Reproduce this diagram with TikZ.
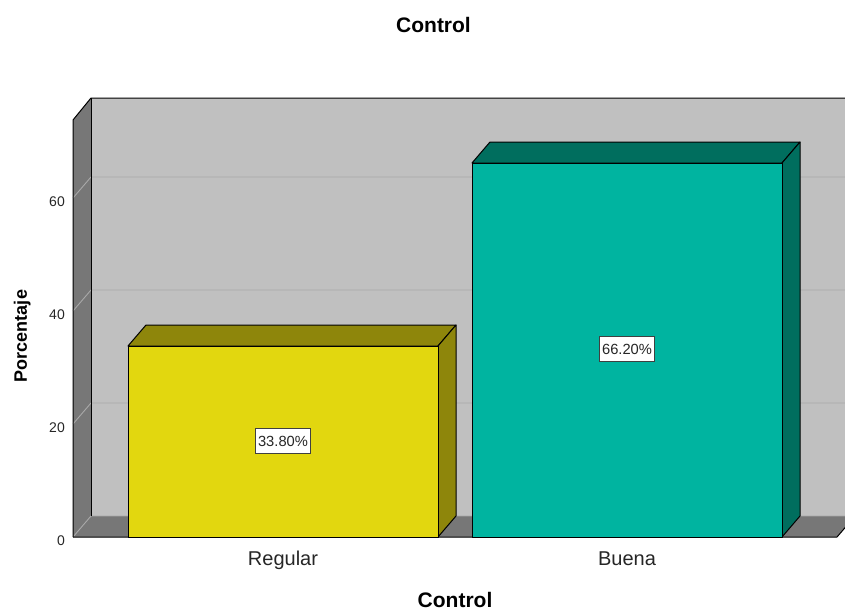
\documentclass[tikz,border=0pt]{standalone}
\usepackage{fontspec}
\setmainfont{Liberation Sans}
\definecolor{wallgray}{HTML}{777777}
\definecolor{backgray}{HTML}{C0C0C0}
\definecolor{gridgray}{HTML}{A9A9A9}
\definecolor{regfront}{HTML}{E2D70F}
\definecolor{regside}{HTML}{8E860B}
\definecolor{buefront}{HTML}{00B4A0}
\definecolor{bueside}{HTML}{006E5E}
\tikzset{
  edge/.style={draw=black, line width=1pt, line join=round},
  gridln/.style={draw=gridgray, line width=0.9pt},
  tick/.style={anchor=base east, inner sep=0pt, font=\fontsize{14}{16}\selectfont, text=black!85},
  pctbox/.style={draw=black!75, fill=white, line width=1.1pt, inner xsep=2.5pt, inner ysep=0pt,
    minimum height=25pt, font=\fontsize{14.7}{16}\selectfont, text=black!85},
  catlabel/.style={anchor=base, font=\fontsize{20}{22}\selectfont, text=black!85},
  axtitle/.style={anchor=base, font=\bfseries\fontsize{21}{24}\selectfont}
}
\begin{document}
\begin{tikzpicture}[x=1pt, y=-1pt]
  \useasboundingbox (0,0) rectangle (845,610);
  \begin{scope}
    \clip (0,0) rectangle (845,610);
    % back wall, left wall and floor
    \fill[backgray] (91,98) rectangle (870,516);
    \fill[wallgray] (73,537) -- (73,120) -- (91,98) -- (91,516) -- cycle;
    \fill[wallgray] (73,537) -- (837,537) -- (855,516) -- (91,516) -- cycle;
    \foreach \gy in {424,311,198}
      \draw[gridln] (73,\gy) -- (91,\gy-21) -- (870,\gy-21);
    \draw[gridln] (73,537) -- (91,516) -- (870,516);
    \draw[edge] (73,537) -- (73,120) -- (91,98) -- (870,98);
    \draw[edge] (91,98) -- (91,516);
    \draw[edge] (73,537) -- (837,537) -- (855,516);
    % Regular
    \filldraw[fill=regside, edge] (128,346) -- (146,325) -- (456,325) -- (438,346) -- cycle;
    \filldraw[fill=regside, edge] (438,346) -- (456,325) -- (456,516) -- (438,537) -- cycle;
    \filldraw[fill=regfront, edge] (128,346) rectangle (438,537);
    % Buena
    \filldraw[fill=bueside, edge] (472,163) -- (490,142) -- (800,142) -- (782,163) -- cycle;
    \filldraw[fill=bueside, edge] (782,163) -- (800,142) -- (800,516) -- (782,537) -- cycle;
    \filldraw[fill=buefront, edge] (472,163) rectangle (782,537);
  \end{scope}
  \node[pctbox] (regpct) at (283,441) {33.80\%};
  \node[pctbox] (buepct) at (627,349) {66.20\%};
  \node[catlabel] (reglab) at (283,565) {Regular};
  \node[catlabel] (buelab) at (627,565) {Buena};
  \node[axtitle] (title) at (433.5,33) {Control};
  \node[axtitle] (xtitle) at (455,607) {Control};
  \node[axtitle, font=\bfseries\fontsize{18}{20}\selectfont, rotate=90] (ytitle) at (27,336) {Porcentaje};
  \foreach \val/\gy in {0/537,20/424,40/311,60/198}
    \node[tick] (tick\val) at (65,\gy+8) {\val};
\end{tikzpicture}
\end{document}
